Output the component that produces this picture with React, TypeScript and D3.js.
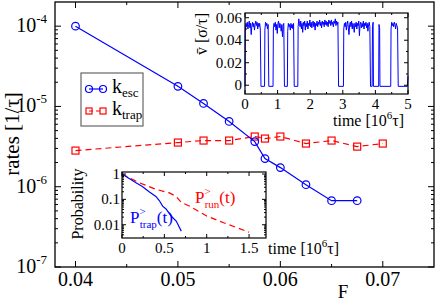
import { useEffect, useRef } from 'react';
import * as d3 from 'd3';

const WIDTH = 436;
const HEIGHT = 302;
const FONT = 'Liberation Serif, Times New Roman, DejaVu Serif, serif';
const BLUE = '#0000ff';
const RED = '#ff0000';

// Main panel: escape and trapping rates vs. force F
const escForce = [0.04, 0.05, 0.0525, 0.055, 0.0575, 0.0585, 0.06, 0.0625, 0.065, 0.0675];
const escRate = [1.0e-4, 1.78e-5, 1.09e-5, 6.5e-6, 3.65e-6, 2.24e-6, 1.73e-6, 1.06e-6, 6.7e-7, 6.7e-7];
const trapForce = [0.04, 0.05, 0.0525, 0.055, 0.0575, 0.0585, 0.06, 0.0625, 0.065, 0.0675, 0.07];
const trapRate = [2.82e-6, 3.55e-6, 3.76e-6, 3.76e-6, 4.22e-6, 3.98e-6, 4.22e-6, 3.45e-6, 3.76e-6, 3.16e-6, 3.45e-6];
const mainXTicks = [0.04, 0.05, 0.06, 0.07];
const mainXMinor = [0.045, 0.055, 0.065];
const mainYExponents = [-7, -6, -5, -4];

// Upper inset: mean velocity trace, [time (10^6 tau), v (sigma/tau)]
const velocityTrace: [number, number][] = [
  [0, -0.001], [0.01, 0.048], [0.03, 0.055], [0.05, 0.052], [0.07, 0.056], [0.09, 0.05], [0.11, 0.054],
  [0.13, 0.057], [0.15, 0.051], [0.17, 0.055], [0.19, 0.045], [0.21, 0.053], [0.23, 0.056], [0.25, 0.052],
  [0.27, 0.055], [0.29, 0.049], [0.31, 0.054], [0.33, 0.057], [0.35, 0.053], [0.37, 0.056], [0.39, 0.05],
  [0.41, 0.055], [0.43, 0.052], [0.45, 0.055], [0.47, 0.05], [0.49, -0.001], [0.6, -0.001], [0.61, 0.049],
  [0.63, 0.056], [0.65, 0.053], [0.67, 0.055], [0.69, 0.05], [0.71, 0.054], [0.73, -0.001], [0.86, -0.001],
  [0.87, 0.05], [0.89, 0.055], [0.91, 0.052], [0.93, 0.056], [0.95, 0.049], [0.97, 0.054], [0.99, 0.046],
  [1.01, 0.055], [1.03, 0.057], [1.05, 0.051], [1.07, 0.055], [1.09, 0.053], [1.11, 0.048], [1.13, 0.054],
  [1.15, 0.043], [1.17, 0.053], [1.19, 0.055], [1.21, -0.001], [1.3, -0.001], [1.31, 0.048], [1.33, 0.055],
  [1.35, 0.052], [1.37, 0.054], [1.39, 0.049], [1.41, 0.055], [1.43, 0.051], [1.45, 0.054], [1.47, 0.05],
  [1.49, 0.055], [1.51, -0.001], [1.62, -0.001], [1.63, 0.052], [1.65, 0.059], [1.67, 0.055], [1.69, 0.052],
  [1.71, 0.057], [1.73, 0.05], [1.75, 0.055], [1.77, 0.047], [1.79, 0.056], [1.81, 0.053], [1.83, 0.057],
  [1.85, 0.049], [1.87, 0.055], [1.89, 0.052], [1.91, 0.057], [1.93, 0.05], [1.95, 0.055], [1.97, 0.053],
  [1.99, 0.058], [2.01, 0.052], [2.03, 0.056], [2.05, 0.051], [2.07, 0.055], [2.09, 0.057], [2.11, 0.052],
  [2.13, 0.056], [2.15, 0.049], [2.17, 0.055], [2.19, 0.053], [2.21, 0.057], [2.23, 0.052], [2.25, 0.056],
  [2.27, 0.054], [2.29, 0.058], [2.31, 0.053], [2.33, 0.056], [2.35, 0.051], [2.37, 0.057], [2.39, 0.054],
  [2.41, 0.056], [2.43, 0.052], [2.45, 0.058], [2.47, 0.054], [2.49, 0.057], [2.51, 0.053], [2.53, 0.056],
  [2.55, 0.052], [2.57, 0.058], [2.59, 0.055], [2.61, 0.057], [2.63, 0.053], [2.65, 0.058], [2.67, 0.054],
  [2.69, 0.056], [2.71, 0.052], [2.73, 0.057], [2.75, 0.055], [2.77, 0.059], [2.79, 0.053], [2.81, 0.057],
  [2.83, 0.054], [2.85, 0.056], [2.87, -0.001], [3.02, -0.001], [3.03, 0.05], [3.05, 0.055], [3.07, 0.052],
  [3.09, 0.056], [3.11, 0.049], [3.13, 0.054], [3.15, 0.057], [3.17, 0.051], [3.19, 0.045], [3.21, 0.054],
  [3.23, 0.056], [3.25, 0.052], [3.27, 0.057], [3.29, 0.05], [3.31, 0.055], [3.33, 0.053], [3.35, 0.047],
  [3.37, 0.055], [3.39, 0.052], [3.41, 0.056], [3.43, 0.05], [3.45, 0.055], [3.47, 0.053], [3.49, 0.057],
  [3.51, 0.044], [3.53, 0.054], [3.55, 0.056], [3.57, 0.051], [3.59, 0.055], [3.61, 0.052], [3.63, 0.057],
  [3.65, 0.05], [3.67, 0.055], [3.69, 0.053], [3.71, 0.056], [3.73, 0.051], [3.75, 0.055], [3.77, 0.048],
  [3.79, 0.054], [3.81, 0.056], [3.83, 0.052], [3.85, -0.001], [3.9, -0.001], [3.91, 0.052], [3.93, 0.056],
  [3.94, -0.001], [4.1, -0.001], [4.11, 0.054], [4.13, 0.051], [4.14, -0.001], [4.47, -0.001], [4.48, 0.05],
  [4.5, 0.056], [4.52, 0.053], [4.54, 0.055], [4.56, 0.052], [4.58, 0.056], [4.6, 0.054], [4.62, 0.05],
  [4.64, 0.055], [4.66, 0.053], [4.68, 0.051], [4.7, -0.001], [4.98, -0.001], [5.0, 0.008],
];
const velXTicks = [0, 1, 2, 3, 4, 5];
const velXMinor = [0.5, 1.5, 2.5, 3.5, 4.5];
const velYTicks = [0, 0.02, 0.04, 0.06];
const velYMinor = [0.01, 0.03, 0.05];

// Lower inset: survival probabilities
const trapTime = [0, 0.08, 0.16, 0.24, 0.32, 0.4, 0.44, 0.48, 0.52, 0.58, 0.64, 0.7];
const trapProb = [1, 0.68, 0.46, 0.32, 0.2, 0.13, 0.09, 0.054, 0.042, 0.022, 0.014, 0.0056];
const runTime = [0, 0.2, 0.4, 0.56, 0.64, 0.7, 0.8, 1.0, 1.2, 1.5];
const runProb = [1, 0.46, 0.25, 0.18, 0.13, 0.076, 0.054, 0.022, 0.012, 0.0051];
const probXTicks = [0, 0.5, 1, 1.5];
const probXMinor = [0.25, 0.75, 1.25];
const probYTicks = [1, 0.1, 0.01];

type G = d3.Selection<SVGGElement, unknown, null, undefined>;
type Scale = ((v: number) => number) & { range: () => number[] };

function logMinor(lo: number, hi: number) {
  const out: number[] = [];
  for (let e = Math.floor(Math.log10(lo)); e <= Math.ceil(Math.log10(hi)); e++) {
    for (let m = 2; m <= 9; m++) {
      const v = m * Math.pow(10, e);
      if (v > lo && v < hi * 0.999) out.push(v);
    }
  }
  return out;
}

// inward ticks on all four sides of a box
function boxTicks(g: G, sx: Scale, sy: Scale, xs: number[], ys: number[], len: number) {
  const [left, right] = sx.range();
  const [bottom, top] = sy.range();
  const tg = g.append('g').attr('stroke', '#000').attr('stroke-width', 1);
  xs.forEach((v) => {
    tg.append('line').attr('x1', sx(v)).attr('x2', sx(v)).attr('y1', bottom).attr('y2', bottom - len);
    tg.append('line').attr('x1', sx(v)).attr('x2', sx(v)).attr('y1', top).attr('y2', top + len);
  });
  ys.forEach((v) => {
    tg.append('line').attr('x1', left).attr('x2', left + len).attr('y1', sy(v)).attr('y2', sy(v));
    tg.append('line').attr('x1', right).attr('x2', right - len).attr('y1', sy(v)).attr('y2', sy(v));
  });
}

export default function App() {
  const svgRef = useRef<SVGSVGElement>(null);

  useEffect(() => {
    if (!svgRef.current) return;
    const svg = d3.select(svgRef.current);
    svg.selectAll('*').remove();
    const g = svg.append('g').style('font-family', FONT) as unknown as G;

    g.append('rect').attr('width', WIDTH).attr('height', HEIGHT).attr('fill', '#fff');

    // ---------- main panel ----------
    const x = d3.scaleLinear().domain([0.038, 0.075]).range([55, 434]);
    const y = d3.scaleLog().domain([1e-7, 2e-4]).range([267, 2]);

    boxTicks(g, x, y, mainXTicks, mainYExponents.map((e) => Math.pow(10, e)), 6);
    boxTicks(g, x, y, mainXMinor, logMinor(1e-7, 2e-4), 3);

    g.append('g')
      .selectAll('text')
      .data(mainXTicks)
      .join('text')
      .attr('x', (d) => x(d))
      .attr('y', 286)
      .attr('text-anchor', 'middle')
      .attr('font-size', 20)
      .text((d) => d.toFixed(2));

    const yl = g.append('g')
      .selectAll('text')
      .data(mainYExponents)
      .join('text')
      .attr('x', 47)
      .attr('y', (d) => y(Math.pow(10, d)) + 6)
      .attr('text-anchor', 'end')
      .attr('font-size', 20);
    yl.append('tspan').text('10');
    yl.append('tspan').attr('font-size', 13).attr('dy', -9).text((d) => `${d}`);

    g.append('text')
      .attr('transform', 'translate(19,134) rotate(-90)')
      .attr('text-anchor', 'middle')
      .attr('font-size', 21)
      .text('rates [1/τ]');

    g.append('text').attr('x', 343).attr('y', 298).attr('text-anchor', 'middle').attr('font-size', 19).text('F');

    // series
    const escData = escForce.map((f, i) => ({ f, k: escRate[i] }));
    const trapData = trapForce.map((f, i) => ({ f, k: trapRate[i] }));
    const line = d3
      .line<{ f: number; k: number }>()
      .x((d) => x(d.f))
      .y((d) => y(d.k));

    g.append('path')
      .datum(trapData)
      .attr('d', line)
      .attr('fill', 'none')
      .attr('stroke', RED)
      .attr('stroke-width', 1.2)
      .attr('stroke-dasharray', '6,4');
    g.append('g')
      .selectAll('rect')
      .data(trapData)
      .join('rect')
      .attr('x', (d) => x(d.f) - 3.5)
      .attr('y', (d) => y(d.k) - 3.5)
      .attr('width', 7)
      .attr('height', 7)
      .attr('fill', 'none')
      .attr('stroke', RED)
      .attr('stroke-width', 1.2);

    g.append('path')
      .datum(escData)
      .attr('d', line)
      .attr('fill', 'none')
      .attr('stroke', BLUE)
      .attr('stroke-width', 1.2);
    g.append('g')
      .selectAll('circle')
      .data(escData)
      .join('circle')
      .attr('cx', (d) => x(d.f))
      .attr('cy', (d) => y(d.k))
      .attr('r', 3.8)
      .attr('fill', 'none')
      .attr('stroke', BLUE)
      .attr('stroke-width', 1.2);

    g.append('rect')
      .attr('x', 55)
      .attr('y', 2)
      .attr('width', 379)
      .attr('height', 265)
      .attr('fill', 'none')
      .attr('stroke', '#000')
      .attr('stroke-width', 1.3);

    // legend
    const lg = g.append('g');
    lg.append('rect').attr('x', 81).attr('y', 73).attr('width', 62).attr('height', 53).attr('fill', '#fff').attr('stroke', '#666').attr('stroke-width', 1.2);
    lg.append('line').attr('x1', 89).attr('x2', 103).attr('y1', 89).attr('y2', 89).attr('stroke', BLUE).attr('stroke-width', 1.2);
    [89, 103].forEach((cx) =>
      lg.append('circle').attr('cx', cx).attr('cy', 89).attr('r', 3.5).attr('fill', 'none').attr('stroke', BLUE).attr('stroke-width', 1.2)
    );
    lg.append('line').attr('x1', 89).attr('x2', 103).attr('y1', 111).attr('y2', 111).attr('stroke', RED).attr('stroke-width', 1.2).attr('stroke-dasharray', '4,3');
    [89, 103].forEach((cx) =>
      lg.append('rect').attr('x', cx - 3).attr('y', 108).attr('width', 6).attr('height', 6).attr('fill', 'none').attr('stroke', RED).attr('stroke-width', 1.2)
    );
    const t1 = lg.append('text').attr('x', 112).attr('y', 93).attr('font-size', 20);
    t1.append('tspan').text('k');
    t1.append('tspan').attr('font-size', 13).attr('dy', 4).text('esc');
    const t2 = lg.append('text').attr('x', 112).attr('y', 115).attr('font-size', 20);
    t2.append('tspan').text('k');
    t2.append('tspan').attr('font-size', 13).attr('dy', 4).text('trap');

    // ---------- upper inset ----------
    const vx = d3.scaleLinear().domain([0, 5]).range([245, 408]);
    const vy = d3.scaleLinear().domain([-0.0078, 0.0642]).range([94, 13]);
    g.append('rect').attr('x', 245).attr('y', 13).attr('width', 163).attr('height', 81).attr('fill', '#fff');
    g.append('path')
      .datum(velocityTrace)
      .attr('d', d3.line<[number, number]>().x((d) => vx(d[0])).y((d) => vy(d[1])))
      .attr('fill', 'none')
      .attr('stroke', BLUE)
      .attr('stroke-width', 1);
    boxTicks(g, vx, vy, velXTicks, velYTicks, 4);
    boxTicks(g, vx, vy, velXMinor, velYMinor, 2);
    g.append('rect').attr('x', 245).attr('y', 13).attr('width', 163).attr('height', 81).attr('fill', 'none').attr('stroke', '#000').attr('stroke-width', 1.2);

    g.append('g')
      .selectAll('text')
      .data(velXTicks)
      .join('text')
      .attr('x', (d) => vx(d))
      .attr('y', 109)
      .attr('text-anchor', 'middle')
      .attr('font-size', 15)
      .text((d) => `${d}`);
    g.append('g')
      .selectAll('text')
      .data(velYTicks)
      .join('text')
      .attr('x', 242)
      .attr('y', (d) => vy(d) + 5)
      .attr('text-anchor', 'end')
      .attr('font-size', 15)
      .text((d) => (d === 0 ? '0' : d.toFixed(2)));
    const vt = g.append('text').attr('x', 333).attr('y', 126).attr('font-size', 16);
    vt.append('tspan').text('time [10');
    vt.append('tspan').attr('font-size', 11).attr('dy', -7).text('6');
    vt.append('tspan').attr('dy', 7).text('τ]');
    g.append('text')
      .attr('transform', 'translate(207,34) rotate(-90)')
      .attr('text-anchor', 'middle')
      .attr('font-size', 16)
      .text('v\u0304 [σ/τ]');

    // ---------- lower inset ----------
    const px = d3.scaleLinear().domain([0, 1.7]).range([122, 266]);
    const py = d3.scaleLog().domain([0.003, 1.2]).range([238, 172]);
    g.append('rect').attr('x', 122).attr('y', 172).attr('width', 144).attr('height', 66).attr('fill', '#fff');
    const pline = d3.line<[number, number]>().x((d) => px(d[0])).y((d) => py(d[1]));
    g.append('path')
      .datum(runTime.map((t, i) => [t, runProb[i]] as [number, number]))
      .attr('d', pline)
      .attr('fill', 'none')
      .attr('stroke', RED)
      .attr('stroke-width', 1.2)
      .attr('stroke-dasharray', '6,4');
    g.append('path')
      .datum(trapTime.map((t, i) => [t, trapProb[i]] as [number, number]))
      .attr('d', pline)
      .attr('fill', 'none')
      .attr('stroke', BLUE)
      .attr('stroke-width', 1.2);
    boxTicks(g, px, py, probXTicks, probYTicks, 4);
    boxTicks(g, px, py, probXMinor, logMinor(0.003, 1.2), 2);
    g.append('rect').attr('x', 122).attr('y', 172).attr('width', 144).attr('height', 66).attr('fill', 'none').attr('stroke', '#000').attr('stroke-width', 1.2);

    g.append('g')
      .selectAll('text')
      .data(probXTicks)
      .join('text')
      .attr('x', (d) => px(d))
      .attr('y', 253)
      .attr('text-anchor', 'middle')
      .attr('font-size', 15)
      .text((d) => `${d}`);
    g.append('g')
      .selectAll('text')
      .data(probYTicks)
      .join('text')
      .attr('x', 120)
      .attr('y', (d) => py(d) + 5)
      .attr('text-anchor', 'end')
      .attr('font-size', 15)
      .text((d) => `${d}`);
    g.append('text')
      .attr('transform', 'translate(83,204) rotate(-90)')
      .attr('text-anchor', 'middle')
      .attr('font-size', 16)
      .text('Probability');
    const pt = g.append('text').attr('x', 268).attr('y', 254).attr('font-size', 16);
    pt.append('tspan').text('time [10');
    pt.append('tspan').attr('font-size', 11).attr('dy', -7).text('6');
    pt.append('tspan').attr('dy', 7).text('τ]');

    const label = (lx: number, ly: number, sub: string, color: string) => {
      const t = g.append('text').attr('x', lx).attr('y', ly).attr('font-size', 17).attr('fill', color);
      t.append('tspan').text('P');
      t.append('tspan').attr('font-size', 11).attr('dy', -8).text('>');
      t.append('tspan').attr('font-size', 11).attr('dx', -6).attr('dy', 13).text(sub);
      t.append('tspan').attr('dy', -5).text('(t)');
    };
    label(195, 203, 'run', RED);
    label(130, 223, 'trap', BLUE);
  }, []);

  return (
    <svg
      ref={svgRef}
      width={WIDTH}
      height={HEIGHT}
      style={{ position: 'absolute', left: 0, top: 0, display: 'block' }}
    />
  );
}
